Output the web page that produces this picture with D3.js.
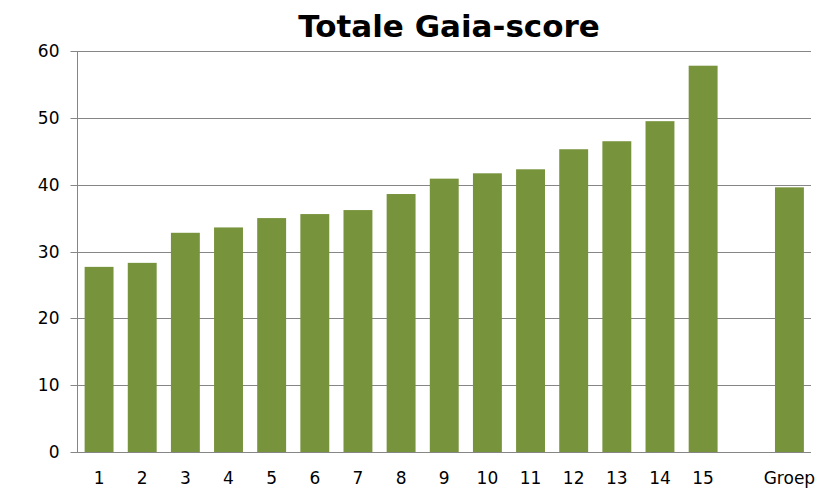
<!DOCTYPE html>
<html>
<head>
<meta charset="utf-8">
<script src="https://cdn.jsdelivr.net/npm/d3@7"></script>
<style>
body { margin: 0; background: #fff; }
svg text { font-family: "DejaVu Sans", Verdana, sans-serif; fill: #000; }
</style>
</head>
<body>
<script>
// categories: 15 persons, an empty slot, then the group average
var categories = ["1","2","3","4","5","6","7","8","9","10","11","12","13","14","15","","Groep"];
var scores = [27.7, 28.3, 32.8, 33.6, 35.0, 35.6, 36.2, 38.6, 40.9, 41.7, 42.3, 45.3, 46.5, 49.5, 57.8, null, 39.6];
var yTicks = [0, 10, 20, 30, 40, 50, 60];

var width = 817, height = 489;
var margin = {top: 51, right: 6, bottom: 37, left: 77.5};

var svg = d3.select("body").append("svg")
  .attr("width", width)
  .attr("height", height);

var x = d3.scaleBand()
  .domain(categories)
  .range([margin.left, width - margin.right])
  .paddingInner(0.33)
  .paddingOuter(0.165);

var y = d3.scaleLinear()
  .domain([0, 60])
  .range([height - margin.bottom, margin.top]);

// gridlines
svg.append("g")
  .selectAll("line")
  .data(yTicks)
  .enter().append("line")
  .attr("x1", margin.left - 7)
  .attr("x2", width - margin.right)
  .attr("y1", function(d) { return Math.round(y(d)) + 0.5; })
  .attr("y2", function(d) { return Math.round(y(d)) + 0.5; })
  .attr("stroke", "#868686")
  .attr("stroke-width", 1);

// y axis line
svg.append("line")
  .attr("x1", margin.left).attr("x2", margin.left)
  .attr("y1", y(60)).attr("y2", y(0))
  .attr("stroke", "#868686");

// y tick labels
svg.append("g")
  .selectAll("text")
  .data(yTicks)
  .enter().append("text")
  .attr("x", margin.left - 18)
  .attr("y", function(d) { return y(d); })
  .attr("dy", "0.36em")
  .attr("text-anchor", "end")
  .style("font-size", "17px")
  .text(function(d) { return d; });

// bars
svg.append("g")
  .selectAll("rect")
  .data(categories.map(function(c, i) { return {cat: c, val: scores[i]}; })
    .filter(function(d) { return d.val != null; }))
  .enter().append("rect")
  .attr("x", function(d) { return x(d.cat); })
  .attr("width", x.bandwidth())
  .attr("y", function(d) { return y(d.val); })
  .attr("height", function(d) { return y(0) - y(d.val); })
  .attr("fill", "#77933c");

// x labels
svg.append("g")
  .selectAll("text")
  .data(categories)
  .enter().append("text")
  .attr("x", function(d) { return x(d) + x.bandwidth() / 2; })
  .attr("y", 484)
  .attr("text-anchor", "middle")
  .style("font-size", "17px")
  .text(function(d) { return d; });

// title
svg.append("text")
  .attr("x", 449)
  .attr("y", 37)
  .attr("text-anchor", "middle")
  .style("font-size", "31px")
  .style("font-weight", "bold")
  .text("Totale Gaia-score");
</script>
</body>
</html>
